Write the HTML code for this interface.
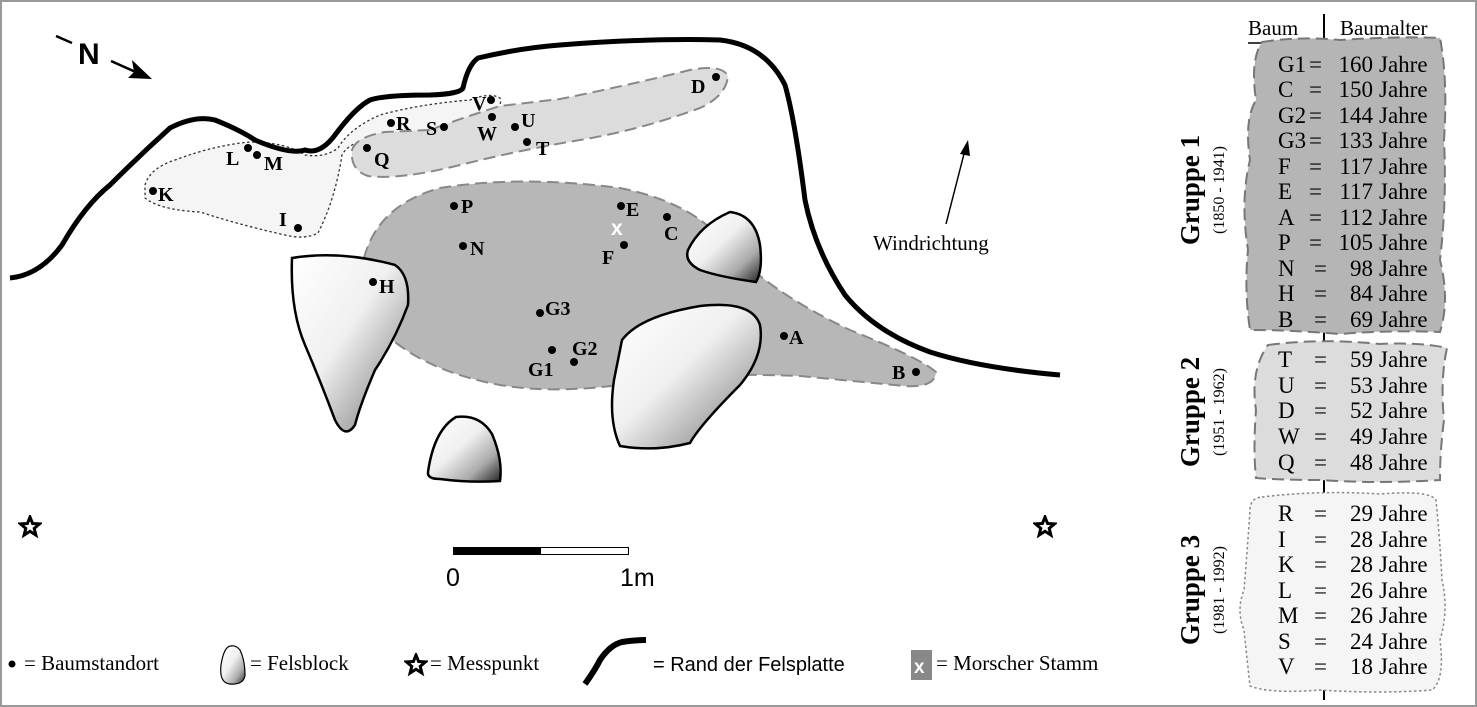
<!DOCTYPE html>
<html><head><meta charset="utf-8"><style>
html,body{margin:0;padding:0;background:#fff}
svg{display:block}
.l{font-family:"Liberation Serif",serif;font-weight:bold;font-size:20px}
.t{font-family:"Liberation Serif",serif;font-size:23px}
.h{font-family:"Liberation Serif",serif;font-size:21px}
.g{font-family:"Liberation Serif",serif;font-size:21px}
</style></head><body>
<svg width="1477" height="707" viewBox="0 0 1477 707" xmlns="http://www.w3.org/2000/svg">
<defs>
<linearGradient id="rk" x1="0" y1="0" x2="1" y2="1">
<stop offset="0" stop-color="#fff"/><stop offset="0.45" stop-color="#f0f0f0"/><stop offset="0.75" stop-color="#aaa"/><stop offset="1" stop-color="#222"/>
</linearGradient>
<symbol id="star" viewBox="-12 -12 24 24">
<polygon points="0,-10 2.6,-3.5 9.5,-3.1 4.2,1.4 5.9,8.1 0,4.3 -5.9,8.1 -4.2,1.4 -9.5,-3.1 -2.6,-3.5" fill="#fff" stroke="#000" stroke-width="3"/>
</symbol>
</defs>
<rect x="1" y="1" width="1475" height="705" fill="#fff" stroke="#999" stroke-width="2"/>

<path d="M145,185 Q150,168 175,160 Q215,145 250,142 Q285,142 305,155 Q325,158 338,148 Q350,128 380,115 Q420,104 470,100 Q490,92 500,98 Q503,108 490,114 Q470,120 450,133 Q420,142 380,138 Q350,140 342,155 Q335,200 318,233 Q305,240 285,235 Q240,225 200,212 Q160,210 145,198 Z" fill="#f5f5f5" stroke="#333" stroke-width="1.3" stroke-dasharray="2.5,2.5"/>
<path d="M352,150 Q356,137 385,132 L430,130 Q462,118 500,106 L560,99 Q625,86 690,70 Q722,64 728,76 Q726,96 700,108 Q640,130 580,140 Q520,150 460,165 Q400,180 368,176 Q350,170 352,150 Z" fill="#dcdcdc" stroke="#888" stroke-width="2" stroke-dasharray="12,6"/>
<path d="M364,258 Q378,205 440,188 Q520,175 620,188 Q690,202 722,240 Q765,290 850,330 Q920,358 936,372 Q935,388 905,386 L800,376 Q700,372 640,382 Q560,395 500,385 Q430,372 390,338 Q358,300 364,258 Z" fill="#b7b7b7" stroke="#888" stroke-width="2" stroke-dasharray="12,6"/>

<path d="M292,258 Q340,250 395,265 Q410,275 408,305 Q395,340 375,370 Q360,405 355,425 Q345,440 335,420 Q320,380 305,345 Q290,310 292,258 Z" fill="url(#rk)" stroke="#000" stroke-width="2.5"/>
<path d="M688,250 Q700,225 730,212 Q755,215 760,245 Q763,270 756,282 Q720,277 700,270 Q684,262 688,250 Z" fill="url(#rk)" stroke="#000" stroke-width="2.5"/>
<path d="M622,340 Q640,316 700,306 Q752,300 760,325 Q765,355 740,385 Q700,425 690,443 Q655,452 620,446 Q608,420 614,380 Z" fill="url(#rk)" stroke="#000" stroke-width="2.5"/>
<path d="M428,472 Q434,430 456,417 Q480,414 492,434 Q503,460 500,481 Q470,483 440,479 Q427,479 428,472 Z" fill="url(#rk)" stroke="#000" stroke-width="2.5"/>

<path d="M10,278 Q40,275 62,245 Q85,205 110,185 Q140,155 170,128 Q195,115 215,120 Q240,130 255,140 Q290,155 305,150 Q320,155 335,135 Q355,108 370,100 Q385,95 430,95 Q460,94 463,88 Q468,65 478,58 Q520,48 560,45 Q650,38 720,40 Q765,45 785,85 Q795,120 805,200 Q815,250 845,295 Q875,332 930,352 Q980,368 1060,375" fill="none" stroke="#000" stroke-width="5"/>

<g fill="#000">
<circle cx="716" cy="77" r="4"/><circle cx="491" cy="100" r="4"/><circle cx="492" cy="117" r="4"/><circle cx="515" cy="127" r="4"/><circle cx="527" cy="142" r="4"/>
<circle cx="391" cy="123" r="4"/><circle cx="444" cy="127" r="4"/><circle cx="367" cy="148" r="4"/><circle cx="248" cy="148" r="4"/><circle cx="257" cy="155" r="4"/>
<circle cx="153" cy="191" r="4"/><circle cx="298" cy="228" r="4"/><circle cx="454" cy="206" r="4"/><circle cx="621" cy="206" r="4"/><circle cx="667" cy="217" r="4"/>
<circle cx="624" cy="245" r="4"/><circle cx="463" cy="246" r="4"/><circle cx="373" cy="282" r="4"/><circle cx="540" cy="313" r="4"/><circle cx="552" cy="350" r="4"/>
<circle cx="574" cy="362" r="4"/><circle cx="784" cy="336" r="4"/><circle cx="916" cy="372" r="4"/>
</g>
<g class="l">
<text x="691" y="93">D</text><text x="472" y="110">V</text><text x="477" y="140">W</text><text x="521" y="127">U</text><text x="536" y="155">T</text>
<text x="396" y="130">R</text><text x="426" y="135">S</text><text x="374" y="166">Q</text><text x="226" y="165">L</text><text x="264" y="170">M</text>
<text x="158" y="201">K</text><text x="279" y="226">I</text><text x="461" y="213">P</text><text x="626" y="216">E</text><text x="664" y="240">C</text>
<text x="602" y="264">F</text><text x="470" y="255">N</text><text x="379" y="293">H</text><text x="545" y="315">G3</text><text x="528" y="376">G1</text>
<text x="572" y="355">G2</text><text x="789" y="344">A</text><text x="892" y="379">B</text>
</g>
<text x="611" y="235" font-family="Liberation Sans,sans-serif" font-weight="bold" font-size="21" fill="#fff">x</text>

<line x1="56" y1="36" x2="72" y2="43" stroke="#000" stroke-width="2.5"/>
<text x="78" y="64" font-family="Liberation Sans,sans-serif" font-weight="bold" font-size="30">N</text>
<line x1="111" y1="61" x2="140" y2="74" stroke="#000" stroke-width="2.5"/>
<polygon points="152,79 128,78 134,72 132,60" fill="#000"/>

<line x1="946" y1="224" x2="965" y2="150" stroke="#000" stroke-width="1.5"/>
<polygon points="968,140 970,156 960,154" fill="#000"/>
<text x="873" y="250" class="g" font-size="19">Windrichtung</text>

<use href="#star" x="18" y="515" width="24" height="24"/>
<use href="#star" x="1033" y="515" width="24" height="24"/>

<rect x="453.5" y="547.5" width="175" height="7" fill="#fff" stroke="#000" stroke-width="1"/>
<rect x="453" y="547" width="88" height="8" fill="#000"/>
<text x="446" y="586" font-family="Liberation Sans,sans-serif" font-size="25">0</text>
<text x="620" y="586" font-family="Liberation Sans,sans-serif" font-size="25">1m</text>

<circle cx="12" cy="664" r="3.5" fill="#000"/>
<text x="24" y="670" class="g">= Baumstandort</text>
<path d="M231,646 Q224,646 221,665 Q219,683 230,684 Q244,685 245,675 Q245,660 240,650 Q236,645 231,646 Z" fill="url(#rk)" stroke="#000" stroke-width="1.2"/>
<text x="250" y="670" class="g">= Felsblock</text>
<use href="#star" x="404" y="653" width="24" height="24"/>
<text x="430" y="670" class="g">= Messpunkt</text>
<path d="M585,684 Q595,670 600,660 Q610,645 622,642 Q635,640 646,640" fill="none" stroke="#000" stroke-width="6"/>
<text x="653" y="671" font-family="Liberation Sans,sans-serif" font-size="20">= Rand der Felsplatte</text>
<rect x="911" y="650" width="21" height="30" fill="#888"/>
<text x="914" y="673" font-family="Liberation Sans,sans-serif" font-weight="bold" font-size="19" fill="#fff">x</text>
<text x="936" y="670" class="g">= Morscher Stamm</text>

<line x1="1324" y1="14" x2="1324" y2="700" stroke="#000" stroke-width="2"/>
<text x="1248" y="35" class="h">Baum</text>
<text x="1340" y="35" class="h">Baumalter</text>
<line x1="1248" y1="43" x2="1442" y2="43" stroke="#000" stroke-width="1.5"/>
<path d="M1262,42 Q1300,36 1340,40 Q1400,36 1440,38 Q1448,80 1444,140 Q1447,200 1440,260 Q1450,300 1440,332 Q1390,330 1340,334 Q1290,330 1250,330 Q1244,290 1248,250 Q1240,200 1250,160 Q1244,120 1256,100 Q1250,60 1262,42 Z" fill="#b5b5b5" stroke="#777" stroke-width="2" stroke-dasharray="12,6"/>
<path d="M1268,345 Q1320,338 1380,344 Q1420,342 1447,348 Q1440,380 1444,420 Q1440,450 1440,480 Q1380,484 1320,480 Q1280,480 1256,478 Q1253,450 1256,410 Q1250,370 1268,345 Z" fill="#dcdcdc" stroke="#777" stroke-width="2" stroke-dasharray="12,6"/>
<path d="M1262,497 Q1320,490 1380,494 Q1430,490 1436,500 Q1440,540 1442,580 Q1449,610 1440,640 Q1445,680 1432,690 Q1380,694 1320,690 Q1270,694 1250,686 Q1246,650 1244,630 Q1236,610 1244,590 Q1248,540 1250,510 Q1250,498 1262,497 Z" fill="#f5f5f5" stroke="#888" stroke-width="1.5" stroke-dasharray="2.5,2.5"/>
<g class="t">
<text x="1278" y="72">G1</text><text x="1309" y="72">=</text><text x="1373" y="72" text-anchor="end">160</text><text x="1379" y="72">Jahre</text>
<text x="1278" y="97">C</text><text x="1309" y="97">=</text><text x="1373" y="97" text-anchor="end">150</text><text x="1379" y="97">Jahre</text>
<text x="1278" y="123">G2</text><text x="1309" y="123">=</text><text x="1373" y="123" text-anchor="end">144</text><text x="1379" y="123">Jahre</text>
<text x="1278" y="148">G3</text><text x="1309" y="148">=</text><text x="1373" y="148" text-anchor="end">133</text><text x="1379" y="148">Jahre</text>
<text x="1278" y="174">F</text><text x="1309" y="174">=</text><text x="1373" y="174" text-anchor="end">117</text><text x="1379" y="174">Jahre</text>
<text x="1278" y="199">E</text><text x="1309" y="199">=</text><text x="1373" y="199" text-anchor="end">117</text><text x="1379" y="199">Jahre</text>
<text x="1278" y="225">A</text><text x="1309" y="225">=</text><text x="1373" y="225" text-anchor="end">112</text><text x="1379" y="225">Jahre</text>
<text x="1278" y="250">P</text><text x="1309" y="250">=</text><text x="1373" y="250" text-anchor="end">105</text><text x="1379" y="250">Jahre</text>
<text x="1278" y="276">N</text><text x="1314" y="276">=</text><text x="1373" y="276" text-anchor="end">98</text><text x="1379" y="276">Jahre</text>
<text x="1278" y="301">H</text><text x="1314" y="301">=</text><text x="1373" y="301" text-anchor="end">84</text><text x="1379" y="301">Jahre</text>
<text x="1278" y="327">B</text><text x="1314" y="327">=</text><text x="1373" y="327" text-anchor="end">69</text><text x="1379" y="327">Jahre</text>
<text x="1278" y="367">T</text><text x="1314" y="367">=</text><text x="1373" y="367" text-anchor="end">59</text><text x="1379" y="367">Jahre</text>
<text x="1278" y="393">U</text><text x="1314" y="393">=</text><text x="1373" y="393" text-anchor="end">53</text><text x="1379" y="393">Jahre</text>
<text x="1278" y="418">D</text><text x="1314" y="418">=</text><text x="1373" y="418" text-anchor="end">52</text><text x="1379" y="418">Jahre</text>
<text x="1278" y="444">W</text><text x="1314" y="444">=</text><text x="1373" y="444" text-anchor="end">49</text><text x="1379" y="444">Jahre</text>
<text x="1278" y="470">Q</text><text x="1314" y="470">=</text><text x="1373" y="470" text-anchor="end">48</text><text x="1379" y="470">Jahre</text>
<text x="1278" y="521">R</text><text x="1314" y="521">=</text><text x="1373" y="521" text-anchor="end">29</text><text x="1379" y="521">Jahre</text>
<text x="1278" y="547">I</text><text x="1314" y="547">=</text><text x="1373" y="547" text-anchor="end">28</text><text x="1379" y="547">Jahre</text>
<text x="1278" y="572">K</text><text x="1314" y="572">=</text><text x="1373" y="572" text-anchor="end">28</text><text x="1379" y="572">Jahre</text>
<text x="1278" y="598">L</text><text x="1314" y="598">=</text><text x="1373" y="598" text-anchor="end">26</text><text x="1379" y="598">Jahre</text>
<text x="1278" y="623">M</text><text x="1314" y="623">=</text><text x="1373" y="623" text-anchor="end">26</text><text x="1379" y="623">Jahre</text>
<text x="1278" y="649">S</text><text x="1314" y="649">=</text><text x="1373" y="649" text-anchor="end">24</text><text x="1379" y="649">Jahre</text>
<text x="1278" y="674">V</text><text x="1314" y="674">=</text><text x="1373" y="674" text-anchor="end">18</text><text x="1379" y="674">Jahre</text>
</g>
<g font-family="Liberation Serif,serif">
<text transform="translate(1199,190) rotate(-90)" text-anchor="middle" font-weight="bold" font-size="27">Gruppe 1</text>
<text transform="translate(1224,190) rotate(-90)" text-anchor="middle" font-size="16">(1850 - 1941)</text>
<text transform="translate(1199,412) rotate(-90)" text-anchor="middle" font-weight="bold" font-size="27">Gruppe 2</text>
<text transform="translate(1224,412) rotate(-90)" text-anchor="middle" font-size="16">(1951 - 1962)</text>
<text transform="translate(1199,590) rotate(-90)" text-anchor="middle" font-weight="bold" font-size="27">Gruppe 3</text>
<text transform="translate(1224,590) rotate(-90)" text-anchor="middle" font-size="16">(1981 - 1992)</text>
</g>
</svg>
</body></html>
